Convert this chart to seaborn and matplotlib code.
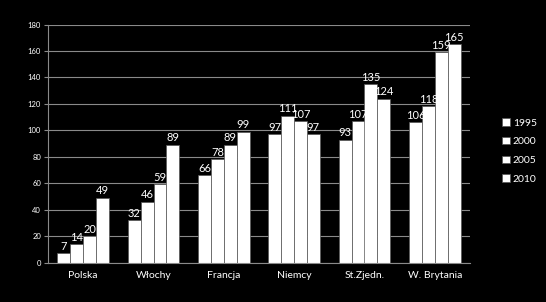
import matplotlib
matplotlib.use("Agg")
import matplotlib.pyplot as plt
import seaborn as sns
import pandas as pd
from matplotlib.patches import Patch

categories = ["Polska", "Włochy", "Francja", "Niemcy", "St.Zjedn.", "W. Brytania"]
years = ["1995", "2000", "2005", "2010"]
v1995 = [7, 32, 66, 97, 93, 106]
v2000 = [14, 46, 78, 111, 107, 118]
v2005 = [20, 59, 89, 107, 135, 159]
v2010 = [49, 89, 99, 97, 124, 165]
yticks = [0, 20, 40, 60, 80, 100, 120, 140, 160, 180]

rows = []
for yr, vals in zip(years, [v1995, v2000, v2005, v2010]):
    for c, v in zip(categories, vals):
        rows.append({"kraj": c, "rok": yr, "val": v})
df = pd.DataFrame(rows)

sns.set_theme(style="dark")
plt.rcParams['font.family'] = ['Lato', 'DejaVu Sans']

fig = plt.figure(figsize=(5.46, 3.02), dpi=100, facecolor="black")
ax = fig.add_axes([48/546, 1-262.5/302, (470-48)/546, (262.5-24.5)/302])
ax.set_facecolor("black")

sns.barplot(data=df, x="kraj", y="val", hue="rok", hue_order=years, order=categories,
            palette=["white"]*4, width=0.73, gap=0, saturation=1,
            edgecolor="#555555", linewidth=0.5, errorbar=None, legend=False, ax=ax)

for cont in ax.containers:
    ax.bar_label(cont, labels=[f"{int(b.get_height())}" for b in cont], padding=1,
                 color="white", fontsize=8)

ax.set_ylim(0, 180)
ax.set_xlim(-0.5, 5.5)
ax.set_yticks(yticks)
ax.set_yticklabels([str(t) for t in yticks], color="white", fontsize=5.5)
ax.yaxis.grid(True, color="#8a8a8a", linewidth=0.8)
ax.xaxis.grid(False)
ax.set_axisbelow(True)
ax.set_xlabel("")
ax.set_ylabel("")
ax.set_xticks(range(len(categories)))
ax.set_xticklabels(categories, color="white", fontsize=7.5)
ax.tick_params(axis="x", length=0, pad=6)
ax.set_xticks([i - 0.5 for i in range(len(categories) + 1)], minor=True)
ax.tick_params(axis="x", which="minor", length=4, color="#8a8a8a", width=0.8, direction="out")
ax.tick_params(axis="y", length=3, color="#8a8a8a", width=0.8, direction="out", pad=2, left=True)
for s in ["top", "right"]:
    ax.spines[s].set_visible(False)
for s in ["left", "bottom"]:
    ax.spines[s].set_color("#8a8a8a")
    ax.spines[s].set_linewidth(0.8)

handles = [Patch(facecolor="white", edgecolor="#555555", linewidth=0.5) for _ in years]
leg = fig.legend(handles, years, loc="center left", bbox_to_anchor=(493/546, 1-151/302),
                 frameon=False, fontsize=7.5, labelcolor="white", handlelength=0.7,
                 handleheight=0.7, handletextpad=0.3, labelspacing=0.9)

fig.savefig("out.png", dpi=100, facecolor="black")
